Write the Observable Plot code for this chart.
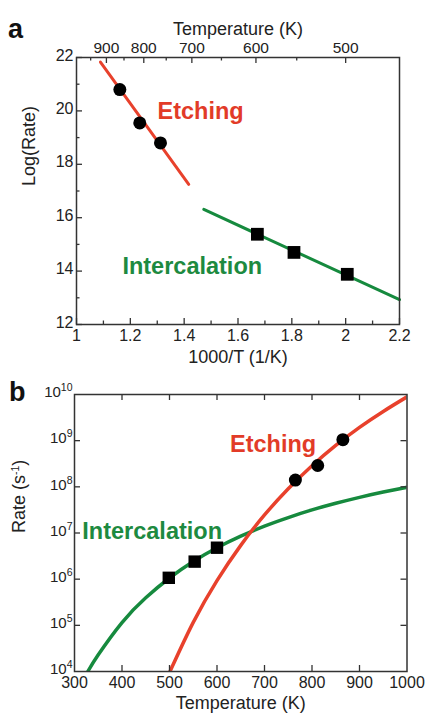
<!DOCTYPE html>
<html><head><meta charset="utf-8">
<script src="https://cdn.jsdelivr.net/npm/d3@7"></script>
<script src="https://cdn.jsdelivr.net/npm/@observablehq/plot@0.6"></script>
<style>
body{margin:0;background:#fff;font-family:"Liberation Sans",Arial,sans-serif;}
#wrap{position:relative;width:427px;height:719px;overflow:hidden;}
.pl{position:absolute;font-weight:bold;font-size:27px;color:#111;line-height:1}
#pa,#pb{position:absolute;left:0}
#pa{top:0}#pb{top:375px}
</style></head><body>
<div id="wrap">
<div id="pa"></div><div id="pb"></div>
<div class="pl" style="left:8px;top:16px">a</div>
<div class="pl" style="left:9px;top:379px">b</div>
</div>
<script>
// ---------- Panel a data ----------
const aBottomTicks = [1, 1.2, 1.4, 1.6, 1.8, 2, 2.2];
const aBottomMinor = [1.1, 1.3, 1.5, 1.7, 1.9, 2.1];
const aLeftTicks = [12, 14, 16, 18, 20, 22];
const aLeftMinor = [13, 15, 17, 19, 21];
const aTopTempMajor = [900, 800, 700, 600, 500];
const aTopTempMinor = [950, 850, 750, 650, 550];
const aEtchLineX = [1.089, 1.417];
const aEtchLineY = [21.83, 17.25];
const aInterLineX = [1.473, 2.2];
const aInterLineY = [16.31, 12.93];
const aEtchPtsX = [1.161, 1.235, 1.312];
const aEtchPtsY = [20.80, 19.55, 18.80];
const aInterPtsX = [1.672, 1.808, 2.006];
const aInterPtsY = [15.38, 14.70, 13.88];
const aLabels = [
  {text: "Etching", x: 1.461, y: 19.96, kind: "etch"},
  {text: "Intercalation", x: 1.430, y: 14.16, kind: "inter"}
];

// ---------- Panel b data ----------
const bXTicks = [300, 400, 500, 600, 700, 800, 900, 1000];
const bYTicks = [1e4, 1e5, 1e6, 1e7, 1e8, 1e9, 1e10];
const bEtchT = [500, 550, 600, 650, 700, 750, 800, 850, 900, 950, 1000];
const bEtchRate = [9.5e3, 1.16e5, 9.3e5, 5.4e6, 2.46e7, 9.1e7, 2.87e8, 7.9e8, 1.94e9, 4.3e9, 8.9e9];
const bInterT = [328, 350, 400, 450, 500, 550, 600, 650, 700, 750, 800, 850, 900, 950, 1000];
const bInterRate = [1.0e4, 2.3e4, 1.15e5, 3.95e5, 1.06e6, 2.41e6, 4.79e6, 8.55e6, 1.41e7, 2.16e7, 3.16e7, 4.40e7, 5.92e7, 7.71e7, 9.77e7];
const bEtchPtsT = [765, 812, 865];
const bEtchPtsRate = [1.4e8, 2.9e8, 1.05e9];
const bInterPtsT = [498.5, 553, 600];
const bInterPtsRate = [1.07e6, 2.4e6, 4.8e6];
const bLabels = [
  {text: "Etching", x: 718, y: 8.3e8, kind: "etch"},
  {text: "Intercalation", x: 463.5, y: 1.07e7, kind: "inter"}
];

// ---------- styles ----------
const RED = "#e8412c", GREEN = "#168a3e", AX = "#333";
const FONT = "Liberation Sans, Arial, Helvetica, sans-serif";
const zip = (xs, ys) => xs.map((x, i) => ({x, y: ys[i]}));
const labelColor = k => k === "etch" ? "#e23b28" : "#1d8a40";
const NS = "http://www.w3.org/2000/svg";
function superscript(el, base, exp, after) {
  el.textContent = "";
  const t1 = document.createElementNS(NS, "tspan"); t1.textContent = base;
  const t2 = document.createElementNS(NS, "tspan"); t2.textContent = exp;
  t2.setAttribute("dy", "-6"); t2.setAttribute("font-size", "10.5px");
  el.append(t1, t2);
  if (after) {
    const t3 = document.createElementNS(NS, "tspan"); t3.textContent = after;
    t3.setAttribute("dy", "6");
    el.append(t3);
  }
}

// ---------- Panel a ----------
{
  const W = 427, H = 375, mt = 57, mb = 51, ml = 76, mr = 28;
  const iW = W - ml - mr, iH = H - mt - mb;
  const chart = Plot.plot({
    width: W, height: H, marginTop: mt, marginBottom: mb, marginLeft: ml, marginRight: mr,
    style: {fontFamily: FONT, fontSize: "15px", color: "#222", background: "transparent", overflow: "visible"},
    x: {domain: [1, 2.2]},
    y: {domain: [12, 22]},
    marks: [
      Plot.line(zip(aEtchLineX, aEtchLineY), {x: "x", y: "y", stroke: RED, strokeWidth: 3}),
      Plot.line(zip(aInterLineX, aInterLineY), {x: "x", y: "y", stroke: GREEN, strokeWidth: 3}),
      Plot.dot(zip(aEtchPtsX, aEtchPtsY), {x: "x", y: "y", r: 6.5, fill: "#000", symbol: "circle"}),
      Plot.dot(zip(aInterPtsX, aInterPtsY), {x: "x", y: "y", r: 7.2, fill: "#000", symbol: "square"}),
      Plot.text(aLabels, {x: "x", y: "y", text: "text", fill: d => labelColor(d.kind), fontSize: 23.5, fontWeight: "bold"}),
      // ticks (inward)
      Plot.tickX(aBottomTicks, {x: d => d, insetTop: iH - 6, stroke: AX, strokeWidth: 1.3}),
      Plot.tickX(aBottomMinor, {x: d => d, insetTop: iH - 3.5, stroke: AX, strokeWidth: 1.3}),
      Plot.tickY(aLeftTicks, {y: d => d, insetRight: iW - 6, stroke: AX, strokeWidth: 1.3}),
      Plot.tickY(aLeftMinor, {y: d => d, insetRight: iW - 3.5, stroke: AX, strokeWidth: 1.3}),
      Plot.tickX(aTopTempMajor, {x: t => 1000 / t, insetBottom: iH - 6, stroke: AX, strokeWidth: 1.3}),
      Plot.tickX(aTopTempMinor, {x: t => 1000 / t, insetBottom: iH - 3.5, stroke: AX, strokeWidth: 1.3}),
      Plot.frame({stroke: AX, strokeWidth: 1.5}),
      // tick labels
      Plot.axisX(aBottomTicks, {anchor: "bottom", tickSize: 0, tickPadding: 5, label: null, fontSize: 16, tickFormat: d => String(d)}),
      Plot.axisY(aLeftTicks, {anchor: "left", tickSize: 0, tickPadding: 3, label: null, fontSize: 16, dy: -2}),
      Plot.axisX(aTopTempMajor.map(t => 1000 / t), {anchor: "top", tickSize: 0, tickPadding: 5, label: null, fontSize: 15.5, tickFormat: d => String(Math.round(1000 / d))}),
      // axis titles
      Plot.text(["1000/T (1/K)"], {frameAnchor: "bottom", dy: 38, fontSize: 18, fill: "#222"}),
      Plot.text(["Temperature (K)"], {frameAnchor: "top", dy: -35, fontSize: 18, fill: "#222"}),
      Plot.text(["Log(Rate)"], {frameAnchor: "left", dx: -47, dy: -5, rotate: -90, fontSize: 18, fill: "#222"})
    ]
  });
  document.getElementById("pa").append(chart);
}

// ---------- Panel b ----------
{
  const W = 427, H = 344, mt = 19, mb = 48, ml = 74, mr = 20.5;
  const iW = W - ml - mr, iH = H - mt - mb;
  const fmt = d => "10^" + Math.round(Math.log10(d));
  const inner = bXTicks.slice(1, -1);
  const innerY = bYTicks.slice(1, -1);
  const chart = Plot.plot({
    width: W, height: H, marginTop: mt, marginBottom: mb, marginLeft: ml, marginRight: mr,
    style: {fontFamily: FONT, fontSize: "15px", color: "#222", background: "transparent", overflow: "visible"},
    x: {domain: [300, 1000]},
    y: {type: "log", domain: [1e4, 1e10]},
    marks: [
      Plot.line(zip(bInterT, bInterRate), {x: "x", y: "y", stroke: GREEN, strokeWidth: 3.5, curve: "natural", clip: true}),
      Plot.line(zip(bEtchT, bEtchRate), {x: "x", y: "y", stroke: RED, strokeWidth: 3.5, curve: "natural", clip: true}),
      Plot.dot(zip(bEtchPtsT, bEtchPtsRate), {x: "x", y: "y", r: 6.5, fill: "#000", symbol: "circle"}),
      Plot.dot(zip(bInterPtsT, bInterPtsRate), {x: "x", y: "y", r: 7, fill: "#000", symbol: "square"}),
      Plot.text(bLabels, {x: "x", y: "y", text: "text", fill: d => labelColor(d.kind), fontSize: 23.5, fontWeight: "bold"}),
      Plot.tickX(inner, {x: d => d, insetTop: iH - 6, stroke: AX, strokeWidth: 1.3}),
      Plot.tickX(inner, {x: d => d, insetBottom: iH - 6, stroke: AX, strokeWidth: 1.3}),
      Plot.tickY(innerY, {y: d => d, insetRight: iW - 6, stroke: AX, strokeWidth: 1.3}),
      Plot.tickY(innerY, {y: d => d, insetLeft: iW - 6, stroke: AX, strokeWidth: 1.3}),
      Plot.frame({stroke: AX, strokeWidth: 1.5}),
      Plot.axisX(bXTicks, {anchor: "bottom", tickSize: 0, tickPadding: 5, label: null, fontSize: 16, tickFormat: d => String(d)}),
      Plot.axisY(bYTicks, {anchor: "left", tickSize: 0, tickPadding: 2, label: null, fontSize: 15, dy: -2, tickFormat: fmt}),
      Plot.text(["Temperature (K)"], {frameAnchor: "bottom", dy: 37, fontSize: 18, fill: "#222"}),
      Plot.text(["Rate (s^-1)"], {frameAnchor: "left", dx: -55, rotate: -90, fontSize: 18, fill: "#222"})
    ]
  });
  chart.querySelectorAll("text").forEach(el => {
    const s = el.textContent;
    if (/^10\^\d+$/.test(s)) superscript(el, "10", s.split("^")[1]);
    else if (s === "Rate (s^-1)") superscript(el, "Rate (s", "-1", ")");
  });
  document.getElementById("pb").append(chart);
}
</script>
</body></html>
